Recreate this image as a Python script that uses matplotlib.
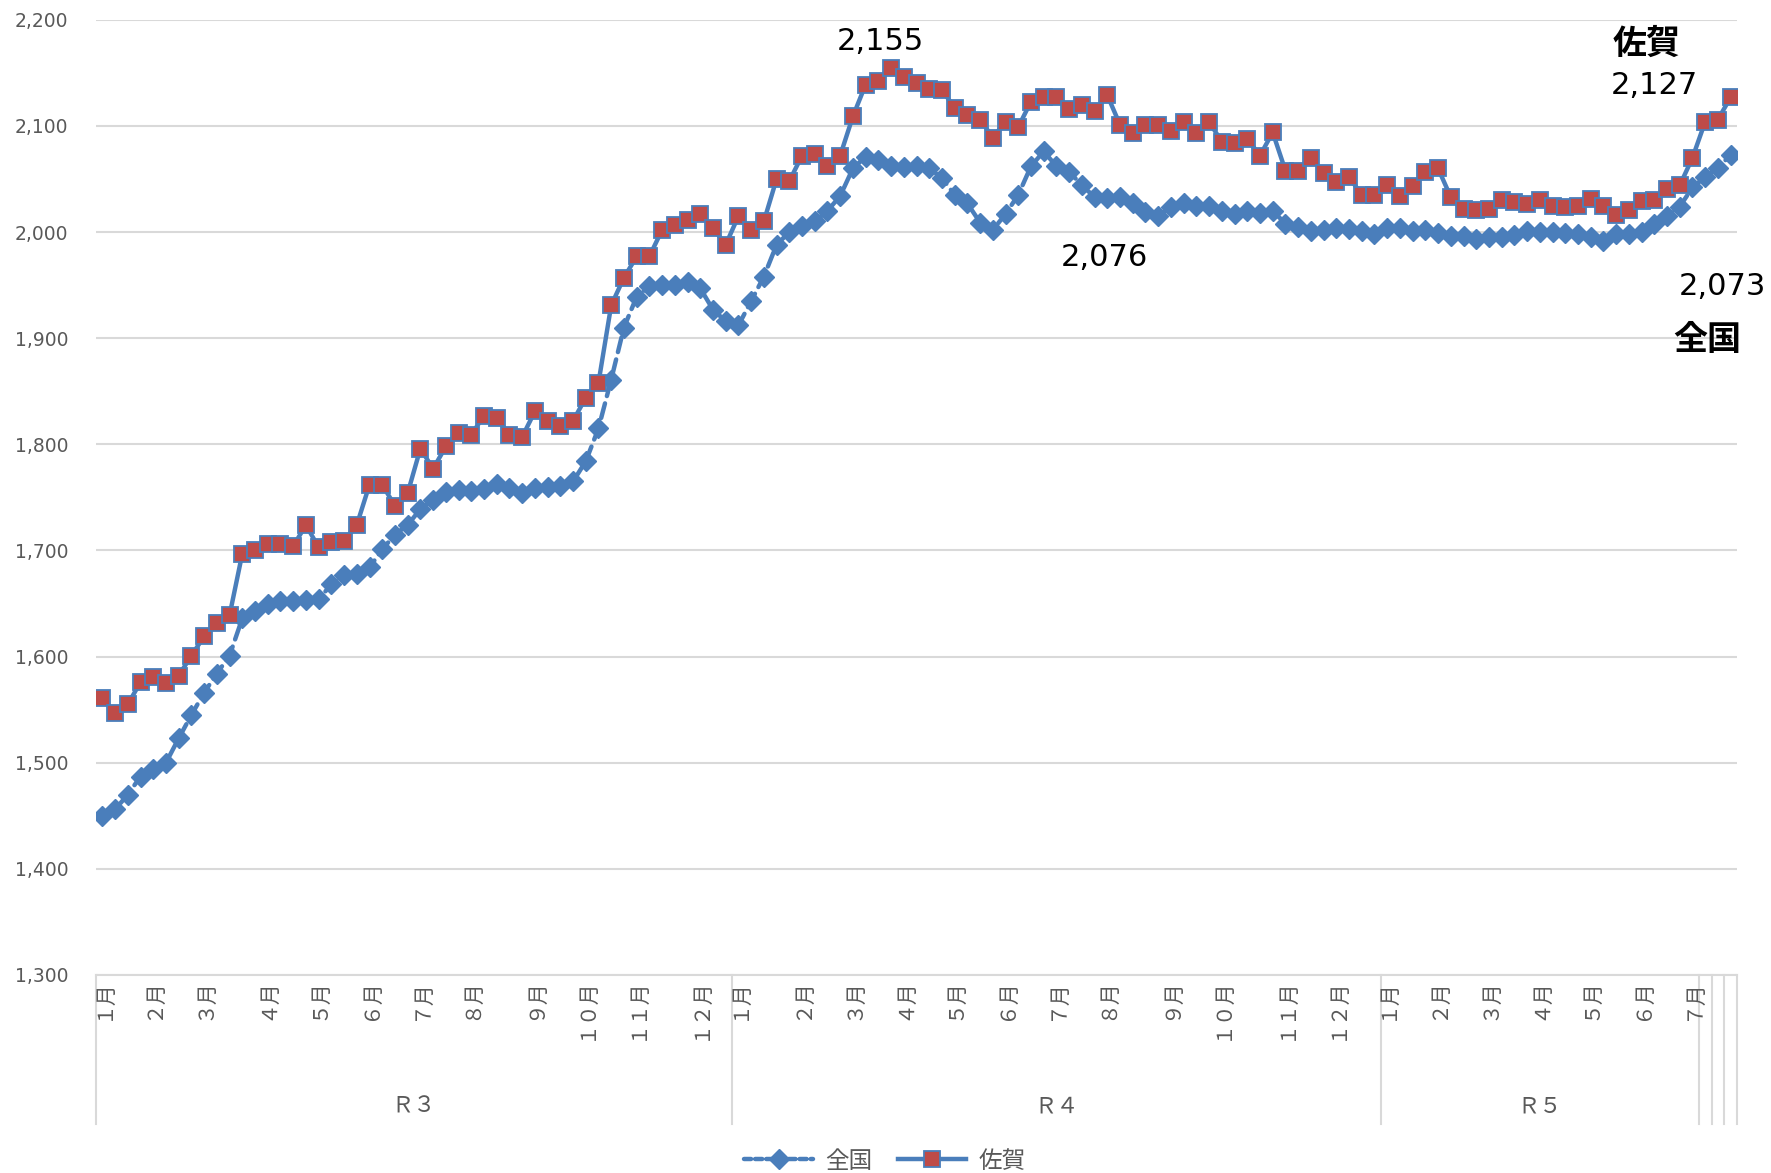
import matplotlib
matplotlib.use("Agg")
import matplotlib.pyplot as plt
import matplotlib.transforms as mtransforms
from matplotlib.lines import Line2D
import numpy as np

plt.rcParams['font.family'] = ['DejaVu Sans', 'Noto Sans CJK JP']

# ---- data (weekly values, R3 Jan .. R5 Jul) ----
zenkoku = [
    1450, 1456, 1470, 1487, 1494, 1500, 1523, 1545, 1566, 1584, 1601, 1636, 1643, 1650, 1652, 1652,
    1653, 1654, 1668, 1677, 1678, 1684, 1701, 1715, 1724, 1739, 1748, 1755, 1757, 1756, 1758, 1763, 1759,
    1754, 1759, 1760, 1761, 1765, 1784, 1815, 1861, 1910, 1939, 1949, 1950, 1950, 1953, 1947, 1927,
    1916, 1912, 1935, 1958, 1988, 2000, 2006, 2010, 2020, 2034, 2060, 2071, 2068, 2062, 2061, 2062, 2060,
    2051, 2035, 2027, 2009, 2002, 2017, 2035, 2062, 2076, 2062, 2057, 2044, 2033, 2032, 2033, 2027,
    2019, 2015, 2024, 2027, 2025, 2025, 2020, 2017, 2020, 2018, 2020, 2008, 2005, 2001, 2002, 2004, 2003,
    2001, 1998, 2004, 2004, 2001, 2002, 1999, 1996, 1996, 1993, 1995, 1995, 1997, 2001, 2000, 2000,
    1999, 1998, 1995, 1992, 1998, 1998, 2000, 2008, 2015, 2024, 2042, 2052, 2060, 2073,
]
saga = [
    1561, 1547, 1555, 1576, 1581, 1575, 1582, 1601, 1619, 1632, 1639, 1697, 1700, 1706, 1706, 1704,
    1724, 1703, 1708, 1709, 1724, 1762, 1762, 1742, 1754, 1796, 1777, 1798, 1811, 1809, 1827, 1825, 1809,
    1807, 1831, 1822, 1817, 1822, 1844, 1858, 1931, 1957, 1977, 1977, 2002, 2007, 2011, 2017, 2004,
    1988, 2015, 2002, 2010, 2050, 2048, 2072, 2074, 2062, 2072, 2109, 2139, 2142, 2155, 2146, 2140, 2135,
    2134, 2117, 2110, 2106, 2089, 2104, 2099, 2123, 2127, 2127, 2116, 2120, 2114, 2129, 2101, 2093,
    2101, 2101, 2095, 2104, 2093, 2104, 2085, 2084, 2088, 2072, 2094, 2058, 2058, 2070, 2056, 2047, 2052,
    2035, 2035, 2044, 2034, 2043, 2057, 2060, 2033, 2022, 2021, 2022, 2030, 2028, 2026, 2030, 2025,
    2024, 2025, 2031, 2025, 2016, 2021, 2029, 2030, 2041, 2044, 2070, 2104, 2106, 2127,
]
series_names = ['全国', '佐賀']

# month tick labels: category index of the first week of each month
month_index = [0, 4, 8, 13, 17, 21, 25, 29, 34, 38, 42, 47,
               50, 55, 59, 63, 67, 71, 75, 79, 84, 88, 93, 97,
               101, 105, 109, 113, 117, 121, 125]
month_labels = ['１月', '２月', '３月', '４月', '５月', '６月', '７月', '８月', '９月', '１０月', '１１月', '１２月',
                '１月', '２月', '３月', '４月', '５月', '６月', '７月', '８月', '９月', '１０月', '１１月', '１２月',
                '１月', '２月', '３月', '４月', '５月', '６月', '７月']
# year groups: (label, first index, last index)
year_labels = ['Ｒ３', 'Ｒ４', 'Ｒ５', '', '', '']
year_first = [0, 50, 101, 126, 127, 128]
year_last = [49, 100, 125, 126, 127, 128]

yticks = list(range(1300, 2201, 100))

# ---- style ----
BLUE = '#4A7EBB'
RED = '#BE4B48'
GRID = '#D9D9D9'
TXT = '#595959'
CJK = ['Noto Sans CJK JP', 'DejaVu Sans']
NUM = ['DejaVu Sans', 'Noto Sans CJK JP']

W, H = 1771, 1173
fig = plt.figure(figsize=(W / 100, H / 100), dpi=100)
ax = fig.add_axes([96 / W, 1 - 975 / H, (1737 - 96) / W, (975 - 19.8) / H])

x = np.arange(len(zenkoku))
ax.plot(x, zenkoku, color=BLUE, lw=3.2, dashes=(3.4, 1.7), dash_capstyle='round',
        marker='D', ms=10, mfc=BLUE, mec=BLUE, mew=1.0, zorder=3, label=series_names[0])
ax.plot(x, saga, color=BLUE, lw=3.2, solid_capstyle='round',
        marker='s', ms=11.5, mfc=RED, mec=BLUE, mew=1.3, zorder=4, label=series_names[1])

ax.set_xlim(-0.5, len(zenkoku) - 0.5)
ax.set_ylim(yticks[0], yticks[-1])
ax.set_yticks(yticks)
ax.set_yticklabels([f'{v:,}' for v in yticks], fontsize=13.5, color=TXT, family=NUM)
ax.tick_params(axis='y', length=0, pad=20)
ax.set_xticks([])
ax.grid(axis='y', color=GRID, lw=1.5)
ax.set_axisbelow(True)
for s in ['left', 'right', 'top']:
    ax.spines[s].set_visible(False)
ax.spines['bottom'].set_color(GRID)
ax.spines['bottom'].set_linewidth(1.5)

trans = mtransforms.blended_transform_factory(ax.transData, ax.transAxes)
# month labels
for idx, lab in zip(month_index, month_labels):
    ax.text(idx, -0.003, lab, transform=trans, rotation=90, ha='center', va='top',
            fontsize=15, color=TXT, family=CJK)
# year group labels and separators
line_bottom = -(1124 - 975) / (975 - 19.8)
bounds = sorted(set([f - 0.5 for f in year_first] + [l + 0.5 for l in year_last]))
for b in bounds:
    ax.plot([b, b], [0, line_bottom], transform=trans, color=GRID, lw=1.5, clip_on=False)
for lab, f, l in zip(year_labels, year_first, year_last):
    if lab:
        ax.text((f + l) / 2, -(1106 - 975) / (975 - 19.8), lab, transform=trans,
                ha='center', va='center', fontsize=16, color=TXT, family=CJK)

# annotations
imax = int(np.argmax(saga))
ax.annotate(f'{saga[imax]:,}', xy=(imax, saga[imax]), xytext=(-11, 26), textcoords='offset pixels',
            ha='center', va='center', fontsize=22, family=NUM)
jmax = int(np.argmax(zenkoku[60:90])) + 60
ax.annotate(f'{zenkoku[jmax]:,}', xy=(jmax, zenkoku[jmax]), xytext=(61, -106), textcoords='offset pixels',
            ha='center', va='center', fontsize=22, family=NUM)
last = len(saga) - 1
ax.annotate(f'{saga[last]:,}', xy=(last, saga[last]), xytext=(-76, 12), textcoords='offset pixels',
            ha='center', va='center', fontsize=22, family=NUM)
ax.annotate(series_names[1], xy=(last, saga[last]), xytext=(-84, 54), textcoords='offset pixels',
            ha='center', va='center', fontsize=24.5, fontweight='bold', family=CJK)
ax.annotate(f'{zenkoku[last]:,}', xy=(last, zenkoku[last]), xytext=(-8, -132), textcoords='offset pixels',
            ha='center', va='center', fontsize=22, family=NUM)
ax.annotate(series_names[0], xy=(last, zenkoku[last]), xytext=(-23, -185), textcoords='offset pixels',
            ha='center', va='center', fontsize=24.5, fontweight='bold', family=CJK)

# legend
handles = [
    Line2D([], [], color=BLUE, lw=3.2, dashes=(1.6, 0.9), dash_capstyle='round',
           marker='D', ms=10, mfc=BLUE, mec=BLUE),
    Line2D([], [], color=BLUE, lw=3.2, marker='s', ms=11.5, mfc=RED, mec=BLUE, mew=1.3),
]
fig.legend(handles, series_names, loc='center', bbox_to_anchor=(885 / W, 1 - 1161 / H),
           ncol=2, frameon=False, handlelength=2.9, handletextpad=0.5, columnspacing=1.1,
           prop={'family': CJK, 'size': 17}, labelcolor=TXT)

fig.savefig('out.png', dpi=100)
